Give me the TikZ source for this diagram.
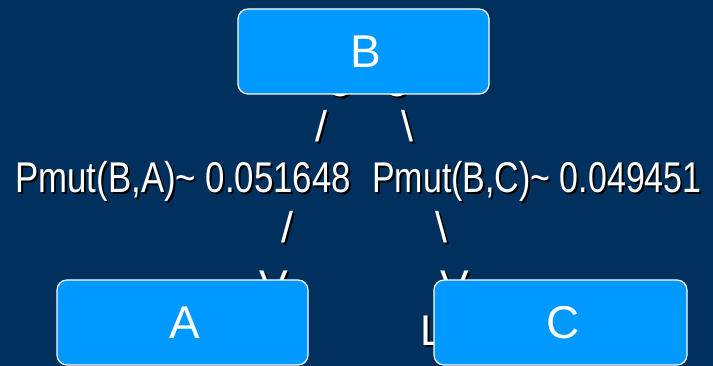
\documentclass[tikz,border=0pt]{standalone}
\usepackage{fontspec}
\setmainfont{Liberation Sans}
\definecolor{bg}{RGB}{0,48,94}
\definecolor{boxblue}{RGB}{0,153,255}
\tikzset{
  txt/.style={inner sep=0pt, text=white, font=\fontsize{43}{50}\selectfont},
  box/.style={draw=white, line width=1.2pt, fill=boxblue, rounded corners=10pt,
    inner sep=0pt, text=white, font=\fontsize{46}{52}\selectfont,
    minimum width=251pt, minimum height=85pt},
}
\newcommand\shtxt[4]{%
  \node[txt, anchor=#2] (#1) at (#3)
    {\makebox[0pt][l]{\hspace{2pt}\raisebox{-2pt}{\color{black}#4}}#4};}
\begin{document}
\begin{tikzpicture}[x=1pt,y=-1pt]
\useasboundingbox (0,0) rectangle (713,366);
\fill[bg] (0,0) rectangle (713,366);
% ascii-art pieces, partly hidden behind the boxes
\shtxt{o1}{center}{340,86}{o}
\shtxt{o2}{center}{397,86}{o}
\shtxt{s1}{center}{321,127}{/}
\shtxt{s2}{center}{407,127}{\textbackslash}
\shtxt{pa}{base west}{15,193}{\scalebox{0.81}[1]{Pmut(B,A)\textasciitilde{} 0.051648}}
\shtxt{pc}{base west}{372,193}{\scalebox{0.79}[1]{Pmut(B,C)\textasciitilde{} 0.049451}}
\shtxt{s3}{center}{287,228}{/}
\shtxt{s4}{center}{441,228}{\textbackslash}
\shtxt{v1}{center}{274,287}{V}
\shtxt{v2}{center}{455,287}{V}
\shtxt{l1}{base west}{420,345}{L}
% boxes
\node[box] (B) at (363.5,51.5) {\kern5pt B};
\node[box] (A) at (182.5,322.5) {\kern5pt A};
\node[box, minimum width=253pt] (C) at (560.5,322.5) {\kern5pt C};
\end{tikzpicture}
\end{document}
